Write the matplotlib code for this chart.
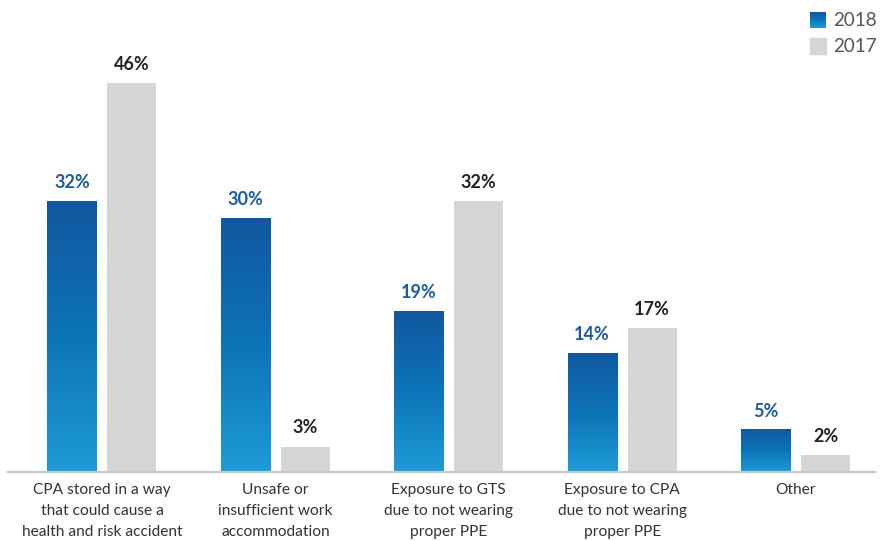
import numpy as np
import matplotlib
matplotlib.use("Agg")
import matplotlib.pyplot as plt
from matplotlib.colors import LinearSegmentedColormap
import matplotlib.patches as mpatches

categories = [
    "CPA stored in a way\nthat could cause a\nhealth and risk accident",
    "Unsafe or\ninsufficient work\naccommodation",
    "Exposure to GTS\ndue to not wearing\nproper PPE",
    "Exposure to CPA\ndue to not wearing\nproper PPE",
    "Other",
]
values_2018 = [32, 30, 19, 14, 5]
values_2017 = [46, 3, 32, 17, 2]
series_names = ["2018", "2017"]

plt.rcParams["font.family"] = ["Lato", "DejaVu Sans"]

blue_cmap = LinearSegmentedColormap.from_list(
    "bluegrad", ["#1e9bd7", "#0d74b8", "#1158a0"])
gray = "#d5d5d5"

W, H = 881, 541
fig = plt.figure(figsize=(W / 100, H / 100), dpi=100)
# axes spans pixel x 8..875, y 30..472 (from top)
ax = fig.add_axes([8 / W, 1 - 472 / H, 867 / W, (472 - 30) / H])

x = np.arange(len(categories))
bw = 0.2826
off = 0.173
px_per_pct = 8.46
ax.set_xlim(-0.542, len(categories) - 0.542)
ax.set_ylim(0, (472 - 30) / px_per_pct)

grad = np.linspace(0, 1, 256).reshape(-1, 1)
for xi, v in zip(x, values_2018):
    left = xi - off - bw / 2
    ax.imshow(grad, cmap=blue_cmap, origin="lower", aspect="auto",
              extent=[left, left + bw, 0, v], zorder=2)
    ax.text(xi - off, v + 1.2, f"{v}%", ha="center", va="bottom",
            fontsize=13, fontweight="bold", color="#1a5c9e")

ax.bar(x + off, values_2017, width=bw, color=gray, zorder=2)
for xi, v in zip(x, values_2017):
    ax.text(xi + off, v + 1.2, f"{v}%", ha="center", va="bottom",
            fontsize=13, fontweight="bold", color="#222222")

for s in ["top", "right", "left"]:
    ax.spines[s].set_visible(False)
ax.spines["bottom"].set_color("#c8c8c8")
ax.spines["bottom"].set_linewidth(1.6)
ax.set_yticks([])
ax.set_xticks(x)
ax.set_xticklabels(categories, fontsize=11.2, color="#333333",
                   fontweight="normal", linespacing=1.65)
ax.tick_params(axis="x", length=0, pad=8)
ax.set_facecolor("none")

# legend (top right)
lx0, ly0 = 810, 12
for i, name in enumerate(series_names):
    y = ly0 + i * 26
    if i == 0:
        lax = fig.add_axes([lx0 / W, 1 - (y + 16) / H, 16 / W, 16 / H])
        lax.imshow(grad, cmap=blue_cmap, origin="lower", aspect="auto")
        lax.axis("off")
    else:
        fig.patches.append(mpatches.Rectangle(
            (lx0 / W, 1 - (y + 16) / H), 16 / W, 16 / H,
            transform=fig.transFigure, color=gray))
    fig.text((lx0 + 23) / W, 1 - (y + 8) / H, name, ha="left", va="center",
             fontsize=13.5, color="#555555", fontweight="normal")

fig.savefig("out.png", dpi=100)
